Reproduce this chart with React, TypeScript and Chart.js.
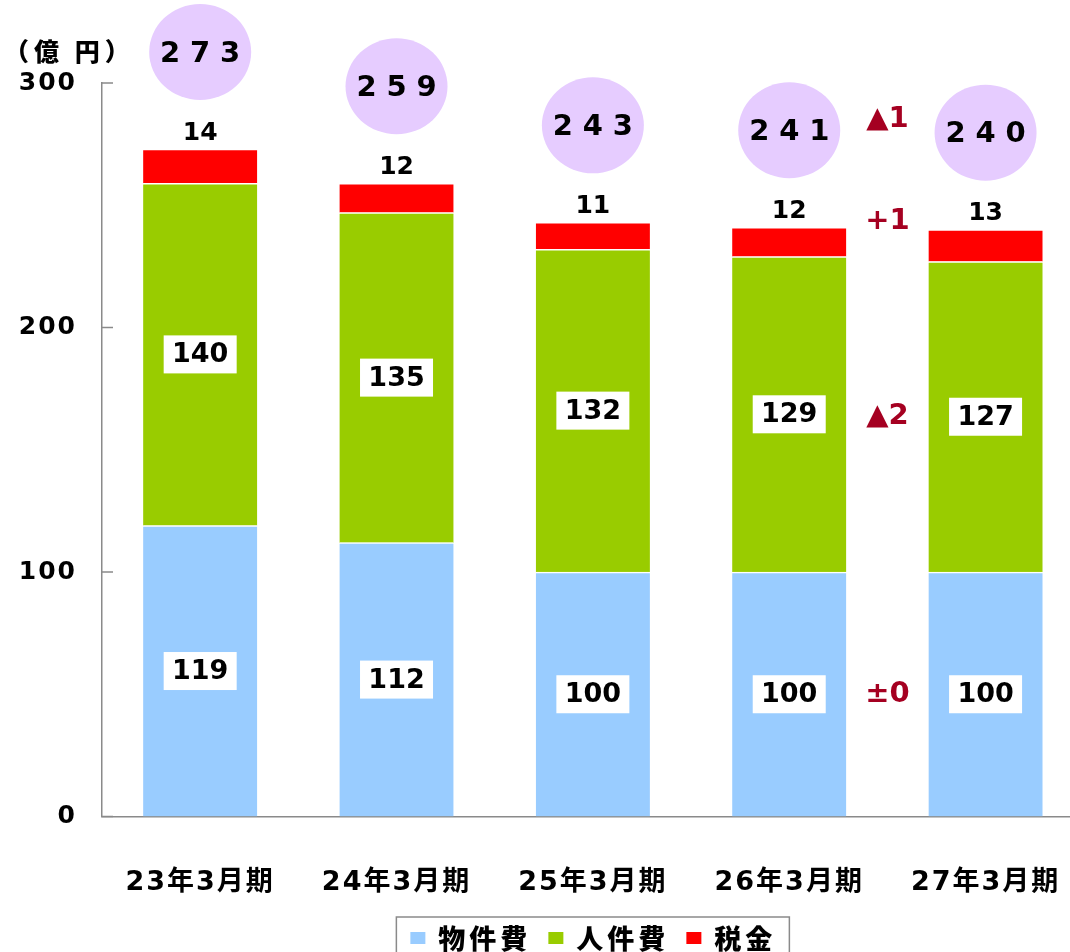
import { useEffect, useRef } from "react";
import { Chart, registerables } from "chart.js";

Chart.register(...registerables);

const categories = ["23年3月期", "24年3月期", "25年3月期", "26年3月期", "27年3月期"];
const materialCosts = [119, 112, 100, 100, 100];
const personnelCosts = [140, 135, 132, 129, 127];
const taxes = [14, 12, 11, 12, 13];
const seriesNames = ["物件費", "人件費", "税金"];
const yTicks = [0, 100, 200, 300];
const unitLabel = "（億 円）";

const COLORS = ["#99CCFF", "#99CC00", "#FF0000"];
const BUBBLE = "#E6CCFF";
const DIFF_COLOR = "#A50021";
const AXIS = "#8a8a8a";
const FONT = "'DejaVu Sans', 'Noto Sans CJK JP', sans-serif";
const CJK = "'Noto Sans CJK JP', sans-serif";

const fmtDiff = (d: number) => (d === 0 ? "±0" : d > 0 ? `+${d}` : `▲${-d}`);

const overlay = {
  id: "overlay",
  beforeDraw(chart: any) {
    chart.ctx.letterSpacing = "2px";
  },
  afterDraw(chart: any) {
    const ctx = chart.ctx as CanvasRenderingContext2D & { letterSpacing: string };
    const xs = chart.scales.x;
    const ys = chart.scales.y;
    ctx.save();

    // inner tick marks on the y axis
    ctx.strokeStyle = AXIS;
    ctx.lineWidth = 1.5;
    for (const v of yTicks) {
      const py = ys.getPixelForValue(v);
      ctx.beginPath();
      ctx.moveTo(xs.left, py);
      ctx.lineTo(xs.left + 11, py);
      ctx.stroke();
    }

    // unit label
    ctx.letterSpacing = "5px";
    ctx.fillStyle = "#000";
    ctx.font = `900 25px ${CJK}`;
    ctx.textAlign = "left";
    ctx.textBaseline = "middle";
    ctx.fillText(unitLabel, 4, ys.getPixelForValue(300) - 32);

    const n = categories.length;
    const bubbleY: number[] = [];

    for (let i = 0; i < n; i++) {
      const cx = xs.getPixelForValue(i);
      const m = materialCosts[i];
      const p = personnelCosts[i];
      const t = taxes[i];
      const total = m + p + t;

      // boxed labels in blue and green segments
      const boxed = (text: string, cy: number) => {
        const w = 73, h = 38;
        ctx.fillStyle = "#fff";
        ctx.fillRect(cx - w / 2, cy - h / 2, w, h);
        ctx.fillStyle = "#000";
        ctx.letterSpacing = "0px";
        ctx.font = `bold 27px ${FONT}`;
        ctx.textAlign = "center";
        ctx.textBaseline = "middle";
        ctx.fillText(text, cx, cy + 1);
      };
      boxed(String(m), ys.getPixelForValue(m / 2));
      boxed(String(p), ys.getPixelForValue(m + p / 2));

      // tax label above bar
      const top = ys.getPixelForValue(total);
      const ty = top - 16;
      ctx.fillStyle = "#000";
      ctx.letterSpacing = "0px";
      ctx.font = `bold 25px ${FONT}`;
      ctx.textAlign = "center";
      ctx.textBaseline = "middle";
      ctx.fillText(String(t), cx, ty);

      // total bubble
      const by = top - 97;
      bubbleY.push(by);
      ctx.fillStyle = BUBBLE;
      ctx.beginPath();
      ctx.ellipse(cx, by, 51, 48, 0, 0, Math.PI * 2);
      ctx.fill();
      const s = String(total);
      const pitch = 30;
      ctx.fillStyle = "#000";
      ctx.font = `bold 29px ${FONT}`;
      s.split("").forEach((ch, k) => {
        ctx.fillText(ch, cx + (k - (s.length - 1) / 2) * pitch, by + 2);
      });
    }

    // year-on-year differences between the last two bars
    const a = n - 2, b = n - 1;
    const dx = xs.getPixelForValue(a + 0.5);
    const totA = materialCosts[a] + personnelCosts[a] + taxes[a];
    const totB = materialCosts[b] + personnelCosts[b] + taxes[b];
    const diffs: [string, number][] = [
      [fmtDiff(materialCosts[b] - materialCosts[a]), ys.getPixelForValue(materialCosts[b] / 2)],
      [fmtDiff(personnelCosts[b] - personnelCosts[a]), ys.getPixelForValue(materialCosts[b] + personnelCosts[b] / 2)],
      [fmtDiff(taxes[b] - taxes[a]), ys.getPixelForValue(totA) - 6],
      [fmtDiff(totB - totA), bubbleY[a] - 11],
    ];
    ctx.fillStyle = DIFF_COLOR;
    ctx.letterSpacing = "0px";
    ctx.font = `bold 29px ${FONT}`;
    ctx.textAlign = "center";
    ctx.textBaseline = "middle";
    for (const [txt, py] of diffs) ctx.fillText(txt, dx, py);

    // legend
    ctx.font = `900 27px ${CJK}`;
    ctx.letterSpacing = "4px";
    const widths = seriesNames.map((s) => ctx.measureText(s).width);
    const mW = 15, mH = 12, gapMT = 13, gapItem = 17, padL = 14, padR = 13;
    const total = padL + widths.reduce((acc, w) => acc + mW + gapMT + w, 0) + gapItem * (seriesNames.length - 1) + padR;
    const lx = xs.getPixelForValue(2) - total / 2;
    const boxTop = chart.height - 35;
    const ly = chart.height - 14;
    ctx.strokeStyle = AXIS;
    ctx.lineWidth = 1.5;
    ctx.strokeRect(lx, boxTop, total, 60);
    let cur = lx + padL;
    ctx.textAlign = "left";
    ctx.textBaseline = "middle";
    seriesNames.forEach((s, k) => {
      ctx.fillStyle = COLORS[k];
      ctx.fillRect(cur, ly - mH / 2, mW, mH);
      cur += mW + gapMT;
      ctx.fillStyle = "#000";
      ctx.fillText(s, cur, ly + 1);
      cur += widths[k] + gapItem;
    });

    ctx.restore();
    ctx.letterSpacing = "0px";
  },
};

export default function App() {
  const ref = useRef<HTMLCanvasElement>(null);
  useEffect(() => {
    document.body.style.margin = "0";
    const canvas = ref.current!;
    const series = [materialCosts, personnelCosts, taxes];
    const chart = new Chart(canvas, {
      type: "bar",
      data: {
        datasets: series.map((arr, k) => ({
          label: seriesNames[k],
          data: arr.map((v, i) => ({ x: i, y: v })),
          backgroundColor: COLORS[k],
          borderColor: "#ffffff",
          borderWidth: { top: 1.5, left: 0, right: 0, bottom: 0 },
          borderSkipped: false,
          barThickness: 114,
        })) as any,
      },
      options: {
        responsive: false,
        animation: false,
        devicePixelRatio: 1,
        layout: { padding: { top: 83, left: 0, right: 0, bottom: 0 } },
        plugins: { legend: { display: false }, tooltip: { enabled: false } },
        scales: {
          x: {
            type: "linear",
            stacked: true,
            offset: false,
            min: -0.5,
            max: 4.43,
            grid: { display: false, drawTicks: false },
            border: { display: true, color: AXIS, width: 1.5 },
            afterBuildTicks: (s: any) => {
              s.ticks = categories.map((_, i) => ({ value: i }));
            },
            afterFit: (s: any) => {
              s.height = 135.5;
              s.paddingLeft = 0;
              s.paddingRight = 0;
            },
            ticks: {
              color: "#000",
              font: { family: FONT, size: 27, weight: "bold" },
              padding: 50,
              maxRotation: 0,
              autoSkip: false,
              callback: (v: any) => categories[v] ?? "",
            },
          },
          y: {
            stacked: true,
            min: 0,
            max: 300,
            grid: { display: false, drawTicks: false },
            border: { display: true, color: AXIS, width: 1.5 },
            afterBuildTicks: (s: any) => {
              s.ticks = yTicks.map((v) => ({ value: v }));
            },
            afterFit: (s: any) => {
              s.width = 102;
              s.paddingTop = 0;
              s.paddingBottom = 0;
            },
            ticks: {
              color: "#000",
              font: { family: FONT, size: 25, weight: "bold" },
              padding: 25,
            },
          },
        },
      } as any,
      plugins: [overlay as any],
    });
    return () => chart.destroy();
  }, []);
  return <canvas ref={ref} width={1070} height={952} style={{ display: "block" }} />;
}
